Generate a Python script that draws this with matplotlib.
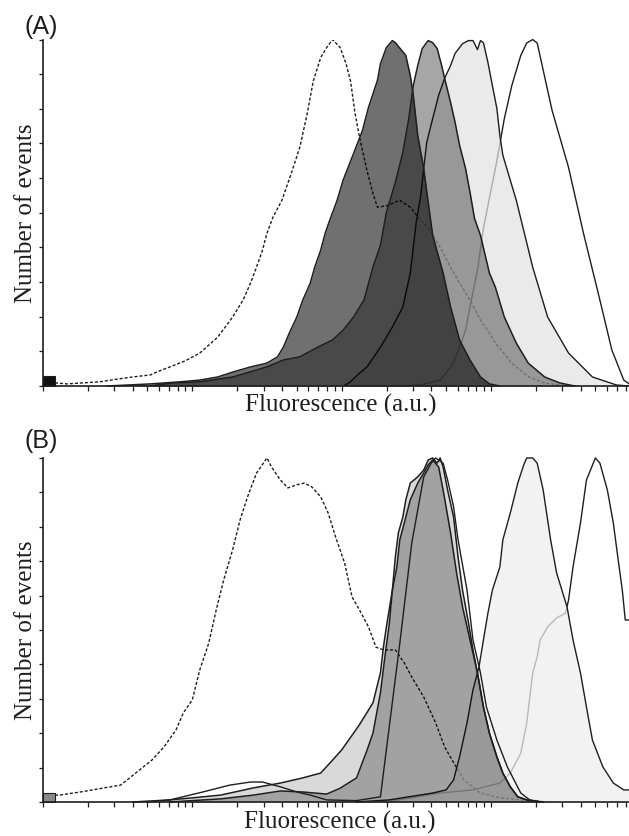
"""Flow cytometry histograms, panels (A) and (B)"""

import matplotlib.pyplot as plt
import numpy as np
from matplotlib.ticker import LogLocator, MultipleLocator, NullFormatter

# x = log10 of fluorescence (a.u.), y = number of events (% of the peak)

# ---- panel A ----
dash_a = np.array([
    [0.08, 0.9], [0.16, 0.6], [0.38, 1.2], [0.50, 2.0], [0.60, 2.6], [0.72, 3.2],
    [0.76, 4.0], [0.85, 5.5], [0.95, 7.2], [1.05, 9.5], [1.17, 14.1], [1.27, 19.9],
    [1.34, 24.8], [1.39, 29.7], [1.43, 34.3], [1.47, 39.2], [1.50, 44.1], [1.54, 48.7],
    [1.60, 53.6], [1.66, 61.0], [1.72, 68.9], [1.77, 78.7], [1.81, 88.0], [1.86, 94.8],
    [1.90, 97.7], [1.94, 100.0], [1.99, 97.7], [2.03, 93.0], [2.06, 88.0], [2.09, 78.7],
    [2.12, 71.8], [2.17, 62.2], [2.21, 55.6], [2.24, 51.6], [2.30, 52.0], [2.39, 53.6],
    [2.46, 51.6], [2.53, 47.8], [2.59, 45.0], [2.66, 40.0], [2.73, 34.3], [2.79, 29.7],
    [2.86, 24.8], [2.93, 19.0], [2.99, 15.3], [3.03, 12.4], [3.14, 6.6], [3.25, 2.7],
    [3.36, 0.8], [3.46, 0.3], [3.60, 0.0]])

dark_a = np.array([
    [0.43, 0.0], [0.72, 0.6], [0.92, 1.2], [1.05, 1.7], [1.17, 2.6], [1.27, 4.0],
    [1.39, 5.5], [1.50, 6.6], [1.57, 8.4], [1.61, 11.2], [1.65, 15.3], [1.70, 19.9],
    [1.74, 24.8], [1.79, 29.7], [1.82, 34.3], [1.86, 39.2], [1.89, 44.1], [1.92, 47.8],
    [1.97, 53.6], [2.01, 59.4], [2.08, 67.1], [2.14, 73.8], [2.18, 80.4], [2.24, 88.2],
    [2.26, 93.0], [2.30, 97.7], [2.34, 99.7], [2.36, 99.1], [2.43, 95.4], [2.46, 89.6],
    [2.48, 83.9], [2.51, 72.3], [2.55, 62.8], [2.58, 53.0], [2.61, 43.5], [2.68, 32.6],
    [2.73, 22.8], [2.79, 13.3], [2.86, 7.5], [2.93, 2.6], [2.99, 0.6], [3.06, 0.0]])

mid_a = np.array([
    [0.72, 0.0], [0.87, 0.9], [1.05, 1.2], [1.27, 2.6], [1.50, 5.5], [1.61, 7.5],
    [1.72, 8.4], [1.84, 11.2], [1.94, 13.3], [2.01, 16.1], [2.08, 19.9], [2.15, 24.8],
    [2.21, 34.3], [2.26, 40.6], [2.30, 50.1], [2.36, 58.8], [2.41, 67.4], [2.45, 77.2],
    [2.48, 86.7], [2.51, 92.5], [2.54, 97.4], [2.58, 99.7], [2.61, 99.1], [2.64, 97.4],
    [2.67, 92.5], [2.69, 88.8], [2.73, 81.8], [2.76, 76.1], [2.79, 69.5], [2.83, 62.8],
    [2.86, 55.9], [2.89, 48.4], [2.93, 43.5], [2.99, 32.6], [3.03, 28.5], [3.09, 19.9],
    [3.17, 12.4], [3.25, 6.6], [3.36, 2.6], [3.46, 0.9], [3.56, 0.0]])

light_a = np.array([
    [2.01, 0.0], [2.05, 0.9], [2.12, 3.7], [2.17, 5.5], [2.26, 11.2], [2.34, 17.0],
    [2.41, 22.8], [2.46, 32.6], [2.50, 47.3], [2.53, 55.0], [2.55, 62.8], [2.57, 70.3],
    [2.61, 77.2], [2.65, 83.9], [2.69, 88.8], [2.73, 92.5], [2.76, 96.0], [2.81, 98.8],
    [2.85, 99.7], [2.88, 99.7], [2.91, 97.1], [2.93, 99.7], [2.95, 99.1], [2.98, 93.4],
    [3.01, 86.7], [3.04, 80.1], [3.06, 72.3], [3.08, 66.6], [3.17, 53.6], [3.28, 34.3],
    [3.38, 19.9], [3.52, 9.5], [3.68, 2.6], [3.84, 0.3], [3.92, 0.0]])

open_a = np.array([
    [2.40, 0.0], [2.53, 0.3], [2.66, 1.7], [2.74, 6.0], [2.79, 11.2], [2.83, 16.0],
    [2.86, 22.8], [2.91, 33.4], [2.95, 45.5], [2.99, 54.2], [3.04, 65.0], [3.09, 77.2],
    [3.14, 86.7], [3.20, 95.4], [3.24, 99.0], [3.28, 100.0], [3.31, 99.0], [3.41, 79.5],
    [3.52, 63.1], [3.62, 44.1], [3.73, 24.8], [3.81, 10.4], [3.89, 1.7], [3.93, 0.5]])

spike_a = [0.0, 0.08, 3.0]   # channel-0 pile-up: from, to, height

# ---- panel B ----
dash_b = np.array([
    [0.08, 2.0], [0.11, 2.0], [0.25, 2.9], [0.41, 4.1], [0.52, 4.9], [0.62, 8.4],
    [0.73, 12.2], [0.81, 16.0], [0.89, 20.9], [0.94, 25.9], [1.00, 29.7], [1.05, 38.4],
    [1.11, 46.2], [1.16, 55.8], [1.21, 64.5], [1.27, 73.3], [1.32, 82.0], [1.37, 88.7],
    [1.43, 95.6], [1.50, 100.0], [1.53, 97.4], [1.59, 93.6], [1.64, 91.3], [1.70, 92.2],
    [1.75, 92.7], [1.80, 91.6], [1.86, 88.7], [1.91, 84.0], [1.96, 77.0], [2.02, 69.5],
    [2.07, 59.6], [2.12, 55.8], [2.18, 50.9], [2.23, 45.0], [2.28, 44.2], [2.36, 44.2],
    [2.42, 40.4], [2.47, 36.3], [2.55, 30.5], [2.63, 23.0], [2.69, 16.0], [2.74, 12.2],
    [2.82, 6.4], [2.93, 2.6], [3.06, 1.2], [3.20, 0.6], [3.40, 0.0]])

outer_b = np.array([
    [0.60, 0.0], [0.85, 0.6], [1.00, 1.2], [1.19, 2.0], [1.41, 4.1], [1.59, 5.5],
    [1.74, 7.0], [1.86, 8.4], [1.94, 12.2], [2.00, 15.1], [2.08, 20.0], [2.12, 22.5],
    [2.21, 28.8], [2.26, 37.5], [2.28, 45.0], [2.30, 50.9], [2.34, 61.6], [2.36, 71.2],
    [2.38, 78.2], [2.41, 82.8], [2.43, 87.8], [2.46, 92.7], [2.51, 94.5], [2.55, 96.5],
    [2.58, 99.4], [2.61, 100.0], [2.64, 98.5], [2.66, 100.0], [2.68, 97.4], [2.71, 90.7],
    [2.75, 82.8], [2.78, 71.2], [2.81, 61.6], [2.85, 52.0], [2.88, 44.2], [2.91, 37.5],
    [2.95, 27.6], [2.99, 20.0], [3.04, 13.1], [3.08, 8.4], [3.13, 4.4], [3.18, 1.5],
    [3.24, 0.6], [3.33, 0.0]])

mid_b = np.array([
    [0.85, 0.0], [1.19, 0.9], [1.41, 2.0], [1.59, 3.2], [1.74, 2.9], [1.90, 2.3],
    [1.99, 4.0], [2.10, 7.0], [2.17, 15.0], [2.21, 20.0], [2.26, 31.7], [2.29, 42.2],
    [2.32, 52.0], [2.34, 61.6], [2.37, 68.3], [2.39, 76.2], [2.43, 82.8], [2.46, 87.8],
    [2.51, 92.7], [2.55, 95.6], [2.58, 98.0], [2.61, 99.4], [2.65, 97.4], [2.68, 90.7],
    [2.73, 78.2], [2.77, 66.6], [2.81, 56.7], [2.86, 47.1], [2.91, 37.5], [2.95, 27.6],
    [2.99, 20.0], [3.04, 13.1], [3.08, 8.4], [3.13, 4.4], [3.18, 1.5], [3.24, 0.6],
    [3.33, 0.0]])

line_b = np.array([
    [0.70, 0.0], [0.85, 0.6], [1.07, 2.9], [1.25, 4.9], [1.39, 5.8], [1.47, 5.8],
    [1.59, 4.4], [1.70, 2.9], [1.79, 2.0], [1.90, 0.6], [2.10, 0.4], [2.26, 1.5],
    [2.39, 46.2], [2.47, 75.3], [2.55, 94.5], [2.60, 98.5], [2.63, 100.0], [2.68, 98.5],
    [2.71, 93.6], [2.75, 85.8], [2.78, 76.2], [2.84, 61.6], [2.88, 47.1], [2.93, 37.5],
    [2.97, 27.6], [3.04, 18.0], [3.11, 10.2], [3.20, 2.6], [3.26, 0.6], [3.35, 0.0]])

light_b = np.array([
    [2.10, 0.0], [2.32, 0.6], [2.61, 2.6], [2.70, 3.5], [2.75, 6.4], [2.79, 13.1],
    [2.84, 23.0], [2.88, 32.6], [2.92, 39.2], [2.95, 47.1], [2.98, 54.9], [3.01, 61.6],
    [3.06, 68.3], [3.08, 76.2], [3.13, 84.0], [3.18, 92.7], [3.22, 98.0], [3.24, 100.0],
    [3.28, 100.0], [3.31, 98.5], [3.35, 90.7], [3.40, 76.2], [3.44, 66.6], [3.51, 56.7],
    [3.55, 47.1], [3.60, 37.5], [3.64, 27.6], [3.68, 18.0], [3.75, 10.2], [3.82, 5.5],
    [3.89, 3.5], [3.93, 3.5]])

open_b = np.array([
    [2.30, 0.0], [2.66, 2.6], [2.88, 3.5], [3.06, 5.5], [3.13, 8.4], [3.20, 14.2],
    [3.24, 23.0], [3.28, 37.5], [3.31, 42.2], [3.33, 47.1], [3.38, 50.9], [3.44, 53.5],
    [3.50, 54.9], [3.52, 58.7], [3.55, 68.3], [3.60, 81.1], [3.64, 93.6], [3.70, 100.0],
    [3.73, 98.5], [3.78, 90.7], [3.82, 81.1], [3.85, 71.2], [3.88, 61.6], [3.90, 52.9],
    [3.93, 52.9]])

spike_b = [0.0, 0.08, 2.5]

X_MAX_LOG = 3.925
INK = "#1e1e1e"


def fx(pts):
    return np.power(10.0, pts[:, 0])


def outline(ax, pts, z, lw=1.1, color=INK, **kw):
    ax.plot(fx(pts), pts[:, 1], color=color, lw=lw, zorder=z, clip_on=False,
            solid_joinstyle="round", **kw)


def shade(ax, pts, color, alpha, z):
    ax.fill_between(fx(pts), pts[:, 1], 0, color=color, alpha=alpha, lw=0, zorder=z)


def dashed(ax, pts):
    ax.plot(fx(pts), pts[:, 1], color=INK, lw=1.0, ls=(0, (2.2, 1.4)), zorder=1)


def spike(ax, sp, face):
    ax.fill_between([10 ** sp[0], 10 ** sp[1]], [sp[2], sp[2]], 0, color=face,
                    edgecolor=INK, lw=0.8, zorder=1.5)


def style_axis(ax):
    ax.set_xscale("log")
    ax.set_xlim(1, 10 ** X_MAX_LOG)
    ax.set_ylim(0, 100)
    for side in ("top", "right"):
        ax.spines[side].set_visible(False)
    for side in ("left", "bottom"):
        ax.spines[side].set_color(INK)
        ax.spines[side].set_linewidth(1.2)
        ax.spines[side].set_zorder(8)
    ax.xaxis.set_major_locator(LogLocator(base=10))
    ax.xaxis.set_minor_locator(LogLocator(base=10, subs=np.arange(2, 10)))
    ax.xaxis.set_major_formatter(NullFormatter())
    ax.xaxis.set_minor_formatter(NullFormatter())
    ax.yaxis.set_major_locator(MultipleLocator(10))
    ax.yaxis.set_major_formatter(NullFormatter())
    ax.tick_params(axis="x", which="both", direction="out", length=3.4, width=0.9, color=INK)
    ax.tick_params(axis="y", which="both", direction="out", length=3.0, width=0.9, color=INK)
    ax.set_facecolor("white")


def panel_a(ax):
    dashed(ax, dash_a)
    outline(ax, open_a, 1.2, lw=1.0)
    spike(ax, spike_a, "#111111")
    shade(ax, light_a, "#e2e2e2", 0.72, 2)
    outline(ax, light_a, 2.2, lw=1.0)
    shade(ax, mid_a, "black", 0.35, 3)
    shade(ax, dark_a, "black", 0.56, 4)
    outline(ax, mid_a, 5)
    outline(ax, dark_a, 5)
    style_axis(ax)


def panel_b(ax):
    dashed(ax, dash_b)
    outline(ax, open_b, 1.2, lw=1.0)
    spike(ax, spike_b, "#8a8a8a")
    shade(ax, light_b, "#eeeeee", 0.75, 2)
    outline(ax, light_b, 2.5, lw=1.0)
    shade(ax, outer_b, "black", 0.15, 3)
    shade(ax, mid_b, "black", 0.25, 4)
    outline(ax, outer_b, 5)
    outline(ax, mid_b, 5)
    outline(ax, line_b, 5, lw=1.0)
    style_axis(ax)


if __name__ == "__main__":
    fig = plt.figure(figsize=(6.29, 8.36), dpi=100)
    ax_a = fig.add_axes([0.0684, 0.5383, 0.9316, 0.4144])
    ax_b = fig.add_axes([0.0684, 0.0407, 0.9316, 0.4115])
    panel_a(ax_a)
    panel_b(ax_b)

    serif = ["Liberation Serif", "DejaVu Serif"]
    sans = ["Liberation Sans", "DejaVu Sans"]
    fig.text(24 / 629, 0.968, "(A)", family=sans, fontsize=18, color=INK, ha="left", va="center")
    fig.text(24 / 629, 0.4725, "(B)", family=sans, fontsize=18, color=INK, ha="left", va="center")
    for yc in (0.5383 + 0.4144 / 2, 0.0407 + 0.4115 / 2):
        fig.text(26 / 629, yc, "Number of events", family=serif, fontsize=18, color=INK,
                 rotation=90, ha="center", va="center")
    fig.text(0.542, 0.5156, "Fluorescence (a.u.)", family=serif, fontsize=18, color=INK,
             ha="center", va="center")
    fig.text(0.5405, 0.0167, "Fluorescence (a.u.)", family=serif, fontsize=18, color=INK,
             ha="center", va="center")

    fig.savefig("out.png", dpi=100)
